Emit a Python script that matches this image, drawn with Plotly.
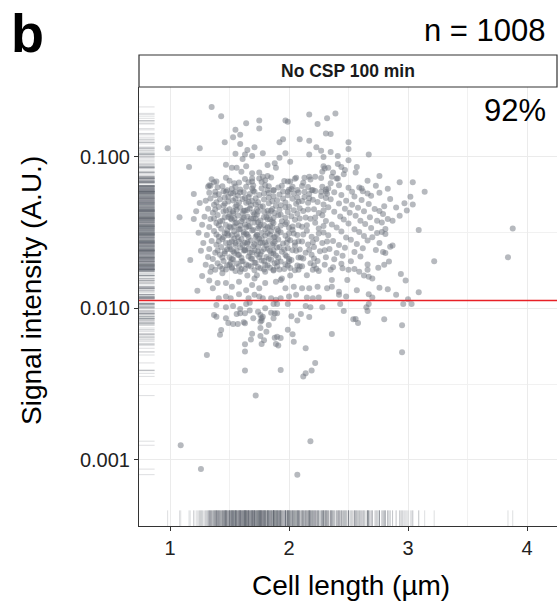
import plotly.graph_objects as go

# ---------------- data ----------------
# sparse points around the cloud (cell length in µm, signal in A.U.)
upper_len = [
    1.35, 1.43, 0.98, 1.25, 1.16, 1.64, 1.75, 1.75, 1.55, 1.59,
    1.53, 1.46, 1.59, 1.71, 1.65, 1.63, 1.55, 1.69, 1.78, 1.61,
    1.47, 1.52, 1.56, 1.64, 1.60, 1.69, 1.75, 1.82, 1.88, 1.89,
    1.92, 1.97, 2.01, 1.92, 1.95, 1.97, 1.99, 2.17, 2.32, 2.39,
    2.24, 2.31, 2.35, 2.09, 2.17, 2.23, 2.27, 2.35, 2.17, 2.41,
    2.29, 2.50, 2.50, 2.50, 2.67, 2.29, 2.30, 2.33, 2.41, 2.44,
    2.47, 2.57, 2.56, 2.46, 2.37, 2.28, 2.17, 2.13, 2.06, 2.22,
    2.36, 2.41, 2.76, 2.73, 2.59, 2.61, 2.93, 3.04, 3.14, 2.01,
    1.94, 1.82, 1.78, 1.75, 1.69, 1.66, 1.54, 1.37, 1.33, 1.44,
    1.20, 1.08, 1.20, 3.02, 2.97, 3.04, 2.99, 3.09, 2.80, 2.76,
    2.79, 2.87, 2.78, 2.74, 2.81, 2.78, 2.81, 2.70, 2.76, 2.85,
    2.87, 2.73, 2.79, 2.81, 3.22, 1.17, 2.94, 2.98, 3.09, 2.90,
    2.83, 2.76, 3.00, 2.67, 2.70, 1.23, 3.88, 3.84,
]
upper_sig = [
    0.214, 0.186, 0.114, 0.114, 0.086, 0.167, 0.174, 0.154, 0.151, 0.140,
    0.135, 0.125, 0.122, 0.116, 0.111, 0.104, 0.105, 0.1015, 0.106, 0.097,
    0.089, 0.085, 0.085, 0.087, 0.080, 0.078, 0.079, 0.0885, 0.091, 0.085,
    0.099, 0.106, 0.093, 0.125, 0.131, 0.174, 0.171, 0.191, 0.180, 0.194,
    0.165, 0.143, 0.142, 0.131, 0.128, 0.116, 0.110, 0.108, 0.104, 0.1015,
    0.100, 0.125, 0.113, 0.095, 0.104, 0.087, 0.084, 0.085, 0.090, 0.086,
    0.082, 0.086, 0.079, 0.077, 0.079, 0.080, 0.074, 0.073, 0.073, 0.074,
    0.074, 0.072, 0.075, 0.0645, 0.063, 0.062, 0.068, 0.068, 0.059, 0.069,
    0.0645, 0.075, 0.074, 0.072, 0.069, 0.068, 0.067, 0.068, 0.065, 0.064,
    0.057, 0.040, 0.039, 0.0547, 0.0495, 0.0485, 0.0443, 0.033, 0.0473, 0.044,
    0.042, 0.038, 0.037, 0.038, 0.0335, 0.032, 0.031, 0.0295, 0.027, 0.0256,
    0.026, 0.0243, 0.0236, 0.0232, 0.0205, 0.0209, 0.0169, 0.0153, 0.0128, 0.0123,
    0.0134, 0.0137, 0.0115, 0.0124, 0.0118, 0.0131, 0.0337, 0.0218,
]

top_band_len = [
    1.32, 1.38, 1.47, 1.51, 1.55, 1.59, 1.69, 1.71, 1.80, 1.82,
    1.87, 1.99, 2.03, 2.07, 2.13, 2.20, 2.27, 2.31, 2.35, 2.42,
    2.53, 2.66,
]
top_band_sig = [
    0.0637, 0.059, 0.059, 0.0575, 0.059, 0.0585, 0.062, 0.059, 0.065, 0.0605,
    0.0605, 0.059, 0.0637, 0.0605, 0.059, 0.0605, 0.059, 0.059, 0.067, 0.065,
    0.059, 0.0575,
]

core_len = [
    1.35, 1.50, 1.63, 1.80, 1.96, 2.18, 2.40, 2.66,
    1.40, 1.52, 1.64, 1.77, 1.91, 2.02, 2.16, 2.33, 2.50, 2.83,
    1.33, 1.45, 1.62, 1.70, 1.83, 1.95, 2.08, 2.22, 2.38, 2.62, 2.76,
    1.38, 1.49, 1.57, 1.66, 1.75, 1.87, 1.99, 2.13, 2.27, 2.44, 2.55, 2.69,
    1.30, 1.42, 1.53, 1.61, 1.69, 1.79, 1.90, 2.03, 2.11, 2.20, 2.35, 2.48, 2.61, 2.85,
    1.25, 1.37, 1.46, 1.56, 1.64, 1.72, 1.83, 1.93, 2.06, 2.16, 2.29, 2.42, 2.53, 2.67,
    1.32, 1.41, 1.50, 1.59, 1.67, 1.76, 1.86, 1.97, 2.09, 2.21, 2.33, 2.47, 2.58, 2.72, 2.90,
    1.22, 1.36, 1.45, 1.53, 1.62, 1.70, 1.79, 1.88, 1.99, 2.12, 2.25, 2.38, 2.51, 2.63,
    1.29, 1.40, 1.49, 1.57, 1.65, 1.73, 1.81, 1.91, 2.02, 2.14, 2.28, 2.43, 2.56, 2.68, 2.93,
    1.34, 1.44, 1.52, 1.60, 1.68, 1.76, 1.84, 1.94, 2.05, 2.18, 2.31, 2.46, 2.60, 2.83,
    1.27, 1.39, 1.47, 1.55, 1.63, 1.71, 1.79, 1.87, 1.97, 2.08, 2.22, 2.36, 2.50, 2.64,
    1.33, 1.43, 1.51, 1.58, 1.66, 1.74, 1.82, 1.90, 2.00, 2.11, 2.25, 2.40, 2.55, 2.69,
    1.24, 1.37, 1.46, 1.54, 1.62, 1.69, 1.77, 1.85, 1.93, 2.04, 2.15, 2.29, 2.44, 2.59, 2.74,
    1.31, 1.41, 1.49, 1.57, 1.65, 1.72, 1.80, 1.88, 1.97, 2.07, 2.19, 2.33, 2.48, 2.63,
    1.35, 1.44, 1.52, 1.60, 1.68, 1.75, 1.83, 1.91, 2.01, 2.11, 2.23, 2.37, 2.52, 2.66,
    1.28, 1.39, 1.47, 1.55, 1.63, 1.71, 1.78, 1.86, 1.95, 2.05, 2.16, 2.28, 2.42, 2.57,
    1.33, 1.43, 1.51, 1.59, 1.66, 1.74, 1.82, 1.90, 1.99, 2.09, 2.21, 2.34, 2.47, 2.62,
    1.26, 1.38, 1.46, 1.54, 1.62, 1.69, 1.77, 1.85, 1.94, 2.03, 2.14, 2.26, 2.40, 2.55,
    1.32, 1.42, 1.50, 1.58, 1.66, 1.73, 1.81, 1.89, 1.98, 2.08, 2.19, 2.31, 2.45, 2.60,
    1.36, 1.45, 1.53, 1.61, 1.69, 1.77, 1.85, 1.93, 2.02, 2.12, 2.24, 2.38, 2.52,
    1.30, 1.40, 1.48, 1.56, 1.64, 1.72, 1.80, 1.88, 1.97, 2.07, 2.18, 2.30, 2.44, 2.66,
    1.35, 1.44, 1.52, 1.60, 1.68, 1.76, 1.84, 1.92, 2.01, 2.11, 2.23, 2.37, 2.55,
    1.45, 1.55, 1.68, 1.78, 1.89, 2.00,
    1.50, 1.61, 1.71, 1.83, 1.93, 2.07,
    1.42, 1.56, 1.66, 1.74, 1.86, 1.98,
    1.48, 1.59, 1.70, 1.80, 1.91, 2.03,
    1.45, 1.54, 1.66, 1.77, 1.87, 1.99,
    1.50, 1.61, 1.70, 1.81, 1.92, 2.05,
    1.46, 1.57, 1.67, 1.76, 1.87, 1.97,
    1.51, 1.60, 1.71, 1.79, 1.90, 2.00,
    1.53, 1.63, 1.74, 1.85,
    1.51, 1.61, 1.72, 1.82,
    1.54, 1.64, 1.75, 1.86,
    1.52, 1.62, 1.73, 1.84,
    1.55, 1.65, 1.76, 1.87,
    1.53, 1.63, 1.74, 1.84,
]
core_sig = [
    0.0712, 0.0698, 0.0716, 0.0701, 0.0694, 0.0709, 0.0720, 0.0697,
    0.0631, 0.0618, 0.0636, 0.0622, 0.0629, 0.0614, 0.0633, 0.0620, 0.0627, 0.0616,
    0.0580, 0.0595, 0.0584, 0.0598, 0.0579, 0.0591, 0.0583, 0.0597, 0.0586, 0.0593, 0.0581,
    0.0560, 0.0547, 0.0556, 0.0544, 0.0562, 0.0550, 0.0558, 0.0545, 0.0553, 0.0561, 0.0548, 0.0555,
    0.0514, 0.0527, 0.0516, 0.0529, 0.0512, 0.0524, 0.0518, 0.0530, 0.0513, 0.0522, 0.0526, 0.0515, 0.0521, 0.0528,
    0.0496, 0.0484, 0.0493, 0.0482, 0.0498, 0.0487, 0.0495, 0.0481, 0.0492, 0.0499, 0.0485, 0.0494, 0.0483, 0.0490,
    0.0455, 0.0467, 0.0452, 0.0463, 0.0457, 0.0469, 0.0454, 0.0465, 0.0459, 0.0451, 0.0466, 0.0456, 0.0462, 0.0453, 0.0464,
    0.0439, 0.0428, 0.0436, 0.0425, 0.0441, 0.0430, 0.0437, 0.0426, 0.0434, 0.0440, 0.0427, 0.0435, 0.0429, 0.0438,
    0.0403, 0.0414, 0.0401, 0.0411, 0.0405, 0.0416, 0.0402, 0.0412, 0.0406, 0.0399, 0.0413, 0.0404, 0.0410, 0.0400, 0.0409,
    0.0390, 0.0379, 0.0387, 0.0376, 0.0392, 0.0381, 0.0388, 0.0377, 0.0385, 0.0391, 0.0378, 0.0386, 0.0380, 0.0389,
    0.0357, 0.0367, 0.0355, 0.0365, 0.0359, 0.0369, 0.0356, 0.0366, 0.0360, 0.0354, 0.0368, 0.0358, 0.0364, 0.0361,
    0.0345, 0.0336, 0.0343, 0.0334, 0.0347, 0.0338, 0.0344, 0.0335, 0.0341, 0.0346, 0.0337, 0.0342, 0.0333, 0.0340,
    0.0316, 0.0325, 0.0314, 0.0323, 0.0318, 0.0327, 0.0315, 0.0324, 0.0319, 0.0313, 0.0326, 0.0317, 0.0322, 0.0320, 0.0315,
    0.0305, 0.0297, 0.0304, 0.0295, 0.0307, 0.0299, 0.0303, 0.0296, 0.0302, 0.0306, 0.0298, 0.0304, 0.0294, 0.0301,
    0.0279, 0.0287, 0.0278, 0.0286, 0.0281, 0.0289, 0.0280, 0.0285, 0.0282, 0.0277, 0.0288, 0.0279, 0.0284, 0.0281,
    0.0271, 0.0263, 0.0270, 0.0262, 0.0272, 0.0265, 0.0269, 0.0261, 0.0268, 0.0273, 0.0264, 0.0270, 0.0262, 0.0266,
    0.0247, 0.0255, 0.0246, 0.0254, 0.0249, 0.0256, 0.0248, 0.0253, 0.0250, 0.0245, 0.0255, 0.0247, 0.0252, 0.0250,
    0.0240, 0.0233, 0.0239, 0.0232, 0.0241, 0.0234, 0.0238, 0.0231, 0.0237, 0.0242, 0.0233, 0.0239, 0.0232, 0.0236,
    0.0219, 0.0226, 0.0218, 0.0225, 0.0220, 0.0227, 0.0219, 0.0224, 0.0221, 0.0217, 0.0226, 0.0218, 0.0223, 0.0220,
    0.0212, 0.0206, 0.0211, 0.0205, 0.0213, 0.0207, 0.0210, 0.0204, 0.0209, 0.0214, 0.0206, 0.0211, 0.0205,
    0.0194, 0.0199, 0.0193, 0.0198, 0.0195, 0.0200, 0.0194, 0.0199, 0.0196, 0.0192, 0.0199, 0.0194, 0.0197, 0.0195,
    0.0188, 0.0183, 0.0187, 0.0182, 0.0189, 0.0184, 0.0186, 0.0181, 0.0185, 0.0190, 0.0183, 0.0187, 0.0182,
    0.0478, 0.0470, 0.0481, 0.0473, 0.0476, 0.0469,
    0.0417, 0.0425, 0.0419, 0.0423, 0.0416, 0.0422,
    0.0376, 0.0369, 0.0378, 0.0371, 0.0375, 0.0370,
    0.0327, 0.0334, 0.0329, 0.0333, 0.0326, 0.0331,
    0.0295, 0.0289, 0.0296, 0.0290, 0.0294, 0.0288,
    0.0256, 0.0262, 0.0257, 0.0261, 0.0255, 0.0260,
    0.0231, 0.0226, 0.0232, 0.0227, 0.0230, 0.0225,
    0.0201, 0.0205, 0.0200, 0.0206, 0.0202, 0.0204,
    0.0438, 0.0441, 0.0436, 0.0442,
    0.0392, 0.0389, 0.0393, 0.0388,
    0.0347, 0.0344, 0.0348, 0.0345,
    0.0305, 0.0308, 0.0304, 0.0307,
    0.0271, 0.0268, 0.0272, 0.0269,
    0.0239, 0.0241, 0.0238, 0.0240,
]

# extra points between the rows above (the centre of the cloud is nearly solid)
fill_len = [
    1.47, 1.69, 1.85, 2.05, 2.27,
    1.39, 1.58, 1.77, 1.99, 2.12,
    1.34, 1.55, 1.70, 1.83, 2.11, 2.28,
    1.48, 1.59, 1.87, 2.00, 2.19, 2.31,
    1.41, 1.53, 1.67, 1.79, 1.92, 2.04, 2.17, 2.32,
    1.34, 1.46, 1.55, 1.63, 1.72, 1.83, 1.95, 2.07, 2.17, 2.31,
    1.39, 1.49, 1.58, 1.66, 1.74, 1.86, 1.97, 2.08, 2.24,
    1.38, 1.47, 1.56, 1.65, 1.73, 1.82, 1.92, 2.04, 2.16, 2.29,
    1.37, 1.46, 1.54, 1.62, 1.70, 1.79, 1.87, 1.97, 2.09, 2.22,
    1.41, 1.50, 1.59, 1.67, 1.76, 1.84, 1.93, 2.03, 2.15, 2.29,
    1.39, 1.48, 1.56, 1.64, 1.73, 1.82, 1.90, 2.00, 2.12, 2.25,
    1.41, 1.50, 1.58, 1.65, 1.73, 1.80, 1.88, 1.98, 2.08, 2.20, 2.32,
    1.40, 1.48, 1.56, 1.63, 1.71, 1.79, 1.87, 1.96, 2.06, 2.17, 2.30,
    1.44, 1.52, 1.60, 1.68, 1.75, 1.83, 1.91, 2.00, 2.10, 2.21,
    1.42, 1.50, 1.58, 1.66, 1.74, 1.82, 1.90, 1.99, 2.09, 2.21,
    1.47, 1.55, 1.63, 1.71, 1.79, 1.87, 1.96, 2.05,
]
fill_sig = [
    0.0728, 0.0721, 0.0731, 0.0719, 0.0726,
    0.0688, 0.0679, 0.0685, 0.0690, 0.0677,
    0.0646, 0.0639, 0.0648, 0.0641, 0.0644, 0.0637,
    0.0603, 0.0610, 0.0601, 0.0608, 0.0604, 0.0611,
    0.0567, 0.0576, 0.0569, 0.0573, 0.0566, 0.0575, 0.0570, 0.0572,
    0.0533, 0.0540, 0.0531, 0.0538, 0.0535, 0.0541, 0.0532, 0.0539, 0.0534, 0.0537,
    0.0502, 0.0509, 0.0501, 0.0507, 0.0503, 0.0510, 0.0500, 0.0506, 0.0504,
    0.0450, 0.0443, 0.0449, 0.0446, 0.0451, 0.0442, 0.0448, 0.0445, 0.0450, 0.0443,
    0.0393, 0.0400, 0.0394, 0.0398, 0.0392, 0.0401, 0.0395, 0.0397, 0.0393, 0.0399,
    0.0354, 0.0347, 0.0353, 0.0350, 0.0355, 0.0349, 0.0352, 0.0348, 0.0354, 0.0350,
    0.0308, 0.0313, 0.0309, 0.0312, 0.0307, 0.0315, 0.0310, 0.0313, 0.0308, 0.0312,
    0.0278, 0.0272, 0.0277, 0.0274, 0.0279, 0.0273, 0.0276, 0.0272, 0.0278, 0.0274, 0.0277,
    0.0241, 0.0246, 0.0240, 0.0244, 0.0242, 0.0247, 0.0241, 0.0245, 0.0240, 0.0244, 0.0242,
    0.0217, 0.0212, 0.0216, 0.0214, 0.0218, 0.0213, 0.0216, 0.0212, 0.0217, 0.0214,
    0.0189, 0.0194, 0.0190, 0.0192, 0.0188, 0.0193, 0.0190, 0.0192, 0.0189, 0.0193,
    0.0181, 0.0177, 0.0182, 0.0179, 0.0181, 0.0178, 0.0182, 0.0179,
]

mid_band_len = [
    1.27, 1.33, 1.34, 1.38, 1.44, 1.52, 1.59, 1.65, 1.71, 1.73,
    1.80, 1.87, 1.94, 2.01, 2.08, 2.15, 2.20, 2.25, 2.35, 2.36,
    2.45, 2.50, 2.59, 2.66, 2.67, 2.63, 2.70, 2.75, 2.80, 2.84,
    1.36, 1.40, 1.47, 1.52, 1.58, 1.64, 1.69, 1.75, 1.80, 1.89,
    1.93, 1.97, 2.04, 2.11, 2.17, 2.24, 2.32, 2.36, 2.42, 2.49,
    2.57, 1.41, 1.47, 1.51, 1.58, 1.66, 1.71, 1.75, 1.78, 1.85,
    1.89, 1.93, 2.00, 2.06, 2.15, 2.20, 2.25, 2.42, 2.48,
]
mid_band_sig = [
    0.0164, 0.0153, 0.0175, 0.0180, 0.0171, 0.0184, 0.0175, 0.0165, 0.0158, 0.0166,
    0.0175, 0.0180, 0.0158, 0.0165, 0.0180, 0.0166, 0.0180, 0.0177, 0.0180, 0.0154,
    0.0184, 0.0180, 0.0175, 0.0180, 0.0162, 0.0165, 0.0158, 0.0186, 0.0194, 0.0204,
    0.0136, 0.0147, 0.0147, 0.0139, 0.0150, 0.0132, 0.0143, 0.0136, 0.0147, 0.0150,
    0.0154, 0.0136, 0.0139, 0.0136, 0.0136, 0.0139, 0.0136, 0.0139, 0.0129, 0.0154,
    0.0132, 0.0117, 0.0120, 0.0117, 0.0124, 0.0117, 0.0123, 0.0120, 0.0117, 0.0117,
    0.0114, 0.0117, 0.0120, 0.0123, 0.0118, 0.0117, 0.0118, 0.0123, 0.0120,
]

lower_len = [
    1.39, 1.47, 1.53, 1.59, 1.64, 1.67, 1.74, 1.80, 1.87, 1.90,
    1.99, 2.14, 2.18, 2.28, 2.43, 2.67, 2.65, 2.66, 2.96, 3.03,
    1.37, 1.39, 1.47, 1.56, 1.59, 1.63, 1.67, 1.70, 1.76, 1.78,
    1.77, 1.77, 1.85, 1.88, 1.87, 1.90, 2.02, 2.07, 2.10, 2.17,
    2.46, 2.54, 2.56, 2.58, 2.80, 1.49, 1.53, 1.57, 1.62, 1.63,
    1.76, 1.83, 1.76, 1.81, 1.99, 1.43, 1.42, 2.95, 1.69, 1.68,
    1.76, 1.79, 1.77, 1.88, 1.90, 1.93, 1.89, 1.91, 1.63, 2.03,
    2.04, 2.36, 2.14, 1.63, 1.31, 2.95, 2.22, 1.63, 1.93, 2.19,
    2.14, 2.12, 1.72, 2.18, 1.09, 1.26, 2.07,
]
lower_sig = [
    0.01054, 0.01019, 0.01038, 0.00993, 0.01072, 0.01092, 0.00953, 0.01002, 0.01072, 0.01072,
    0.01072, 0.01038, 0.01019, 0.01019, 0.01072, 0.01072, 0.01019, 0.00962, 0.01072, 0.01072,
    0.00906, 0.00883, 0.00861, 0.00920, 0.00929, 0.00929, 0.00968, 0.00861, 0.00906, 0.00883,
    0.00861, 0.00832, 0.00938, 0.00929, 0.00861, 0.00929, 0.00887, 0.00832, 0.00920, 0.00879,
    0.00962, 0.00848, 0.00852, 0.00802, 0.00850, 0.00802, 0.00791, 0.00789, 0.00811, 0.00799,
    0.00818, 0.00778, 0.00743, 0.00703, 0.00725, 0.00720, 0.00671, 0.00774, 0.00682, 0.00625,
    0.00658, 0.00617, 0.00583, 0.00641, 0.00651, 0.00639, 0.00583, 0.00569, 0.00580, 0.00675,
    0.00604, 0.00678, 0.00546, 0.00519, 0.00493, 0.00514, 0.00437, 0.00389, 0.00393, 0.00389,
    0.00373, 0.00356, 0.00266, 0.00133, 0.00125, 0.00087, 0.00080,
]

threshold = 0.0113          # red horizontal line
facet_label = "No CSP 100 min"
n_label = "n = 1008"
pct_label = "92%"
panel_letter = "b"
x_ticks = [1, 2, 3, 4]
x_minor = [1.5, 2.5, 3.5]
y_ticks = [0.001, 0.01, 0.1]
y_ticklabels = ["0.001", "0.010", "0.100"]
y_minor = [0.000316, 0.00316, 0.0316]

cell_length = upper_len + top_band_len + core_len + fill_len + mid_band_len + lower_len
signal = upper_sig + top_band_sig + core_sig + fill_sig + mid_band_sig + lower_sig

# ---------------- figure ----------------
FONT = "Liberation Sans, Arial, Helvetica, sans-serif"
DARK = "#333333"
GRID = "#EBEBEB"
RUG = "rgb(95,100,110)"

fig = go.Figure()

# left rug (overlay x axis in panel fraction)
fig.add_trace(go.Scatter(
    x=[0.0155] * len(signal), y=signal, xaxis="x2", yaxis="y",
    mode="markers", hoverinfo="skip", showlegend=False,
    marker=dict(symbol="line-ew", size=13, color=RUG, opacity=0.2,
                line=dict(width=1, color=RUG)),
))
# bottom rug (overlay y axis in panel fraction)
fig.add_trace(go.Scatter(
    x=cell_length, y=[0.0148] * len(cell_length), xaxis="x", yaxis="y2",
    mode="markers", hoverinfo="skip", showlegend=False,
    marker=dict(symbol="line-ns", size=13, color=RUG, opacity=0.2,
                line=dict(width=1, color=RUG)),
))
# points
fig.add_trace(go.Scatter(
    x=cell_length, y=signal, mode="markers", showlegend=False,
    marker=dict(size=6, color="rgb(110,115,125)", opacity=0.5,
                line=dict(width=0)),
))

fig.update_layout(
    width=558, height=603,
    margin=dict(l=139, r=1, t=87, b=77),
    paper_bgcolor="white", plot_bgcolor="white",
    font=dict(family=FONT, color="#000000"),
    xaxis=dict(
        range=[0.7395, 4.252], tickmode="array", tickvals=x_ticks,
        ticktext=[str(v) for v in x_ticks],
        showgrid=True, gridcolor=GRID, gridwidth=1,
        minor=dict(tickmode="array", tickvals=x_minor, showgrid=True,
                   gridcolor="#F1F1F1", gridwidth=0.8),
        showline=True, linecolor=DARK, linewidth=1.1,
        ticks="outside", ticklen=4, tickcolor=DARK, tickwidth=1.1,
        tickfont=dict(size=20, color="#222222"), zeroline=False,
    ),
    yaxis=dict(
        type="log", range=[-3.436, -0.538], tickmode="array",
        tickvals=y_ticks, ticktext=y_ticklabels,
        showgrid=True, gridcolor=GRID, gridwidth=1,
        minor=dict(tickmode="array", tickvals=y_minor, showgrid=True,
                   gridcolor="#F1F1F1", gridwidth=0.8),
        showline=True, linecolor=DARK, linewidth=1.1,
        ticks="outside", ticklen=4, tickcolor=DARK, tickwidth=1.1,
        tickfont=dict(size=20, color="#222222"), zeroline=False,
    ),
    xaxis2=dict(overlaying="x", range=[0, 1], visible=False),
    yaxis2=dict(overlaying="y", range=[0, 1], visible=False),
)

# red threshold line
fig.add_shape(type="line", xref="paper", x0=0, x1=1, yref="y",
              y0=threshold, y1=threshold,
              line=dict(color="rgb(232,32,38)", width=1.6), layer="above")
# facet strip
fig.add_shape(type="rect", xref="paper", yref="paper", x0=0, x1=1,
              y0=1, y1=1.0729, line=dict(color=DARK, width=1.2),
              fillcolor="white", layer="above")

fig.add_annotation(text="<b>" + facet_label + "</b>", xref="paper", yref="paper",
                   x=0.5, y=1.0365, showarrow=False, xanchor="center", yanchor="middle",
                   font=dict(size=17.5, family=FONT, color="#1a1a1a"))
fig.add_annotation(text=n_label, xref="paper", yref="paper", x=0.9785, y=1.1298,
                   showarrow=False, xanchor="right", yanchor="middle",
                   font=dict(size=31, family=FONT))
fig.add_annotation(text=pct_label, xref="paper", yref="paper", x=0.9785, y=0.9465,
                   showarrow=False, xanchor="right", yanchor="middle",
                   font=dict(size=31, family=FONT))
fig.add_annotation(text="<b>" + panel_letter + "</b>", xref="paper", yref="paper",
                   x=-0.312, y=1.196, showarrow=False, xanchor="left", yanchor="top",
                   font=dict(size=54, family=FONT))
fig.add_annotation(text="Cell length (µm)", xref="paper", yref="paper",
                   x=0.507, y=-0.1344, showarrow=False, xanchor="center", yanchor="middle",
                   font=dict(size=28, family=FONT))
fig.add_annotation(text="Signal intensity (A.U.)", xref="paper", yref="paper",
                   x=-0.256, y=0.5376, showarrow=False, xanchor="center", yanchor="middle",
                   textangle=-90, font=dict(size=28, family=FONT))

fig.write_html("out.html")
